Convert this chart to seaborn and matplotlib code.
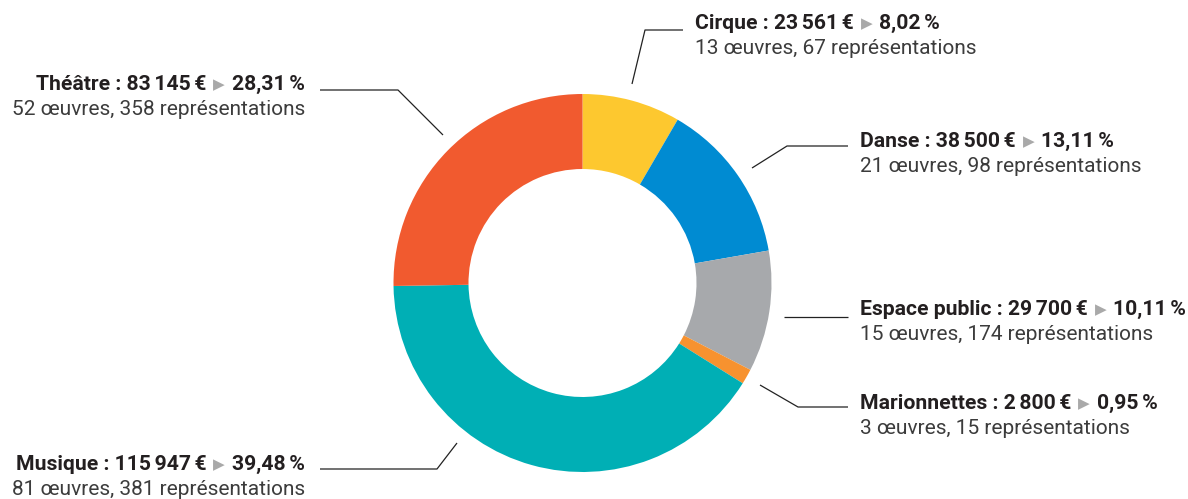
import matplotlib
matplotlib.use("Agg")
import matplotlib.pyplot as plt
import seaborn as sns
from matplotlib.offsetbox import TextArea, HPacker, VPacker, AnnotationBbox

# data
categories = ["Cirque", "Danse", "Espace public", "Marionnettes", "Musique", "Théâtre"]
amounts = ["23\u2006561", "38\u2006500", "29\u2006700", "2\u2006800", "115\u2006947", "83\u2006145"]
shares = [8.02, 13.11, 10.11, 0.95, 39.48, 28.31]
slice_sizes = [8.4, 13.85, 10.35, 1.3, 40.85, 25.25]
works = [13, 21, 15, 3, 81, 52]
shows = [67, 98, 174, 15, 381, 358]
colors = ["#FDC82F", "#008BD2", "#A7A9AC", "#F7922F", "#00AFB5", "#F15A2F"]

# layout (pixel coords, y from top)
W, H = 1188, 499
center = (582.5, 283)
r_out, r_in = 189, 114
# label anchor: (x, y of text block center, side)
label_pos = [(695, 36, "left"), (860, 154, "left"), (860, 322, "left"),
             (860, 416, "left"), (305, 477, "right"), (305, 97, "right")]
leaders = [
    [(632, 84), (645, 30), (683, 30)],
    [(752, 168), (787, 146), (848, 146)],
    [(784, 317), (848, 317)],
    [(760, 385), (798, 407), (848, 407)],
    [(457, 443), (437, 469), (320, 469)],
    [(443, 135), (398, 90), (320, 90)],
]

sns.set_theme(style="white")
plt.rcParams["font.family"] = ["Roboto", "DejaVu Sans"]

fig = plt.figure(figsize=(W / 100, H / 100), dpi=100)
ax = fig.add_axes([0, 0, 1, 1])

def Y(y):
    return H - y

ax.pie(slice_sizes, colors=colors, startangle=90, counterclock=False,
       center=(center[0], Y(center[1])), radius=r_out,
       wedgeprops=dict(width=r_out - r_in, linewidth=0))

for pts in leaders:
    xs = [p[0] for p in pts]
    ys = [Y(p[1]) for p in pts]
    ax.plot(xs, ys, color="#222222", lw=0.9, solid_capstyle="butt")

fam = ["Roboto", "DejaVu Sans"]
bold = dict(fontsize=15.2, fontweight="bold", color="#231f20", family=fam)
reg = dict(fontsize=15, color="#3c3c3c", family=fam)
tri = dict(fontsize=11, color="#a9a9a9", family="DejaVu Sans")

for cat, amt, sh, w, s, (lx, ly, side) in zip(categories, amounts, shares, works, shows, label_pos):
    pct = f"{sh:.2f}".replace(".", ",") + "\u2006%"
    row1 = HPacker(children=[TextArea(f"{cat} : {amt}\u2006€", textprops=bold),
                             TextArea("▶", textprops=tri),
                             TextArea(pct, textprops=bold)],
                   sep=5, pad=0, align="center")
    row2 = TextArea(f"{w} œuvres, {s} représentations", textprops=reg)
    box = VPacker(children=[row1, row2], sep=4, pad=0,
                  align="left" if side == "left" else "right")
    ab = AnnotationBbox(box, (lx, Y(ly)), xycoords="data", frameon=False, pad=0,
                        box_alignment=(0 if side == "left" else 1, 0.5))
    ax.add_artist(ab)

ax.set_xlim(0, W)
ax.set_ylim(0, H)
ax.set_aspect("auto")
ax.axis("off")

fig.savefig("out.png", dpi=100, facecolor="white")
